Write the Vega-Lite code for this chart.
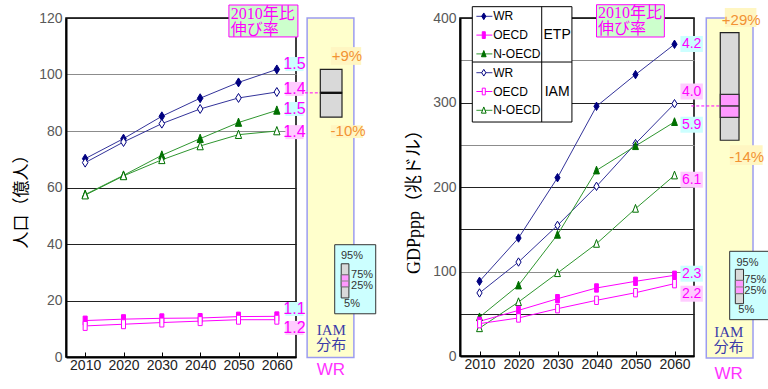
{
  "$schema": "https://vega.github.io/schema/vega-lite/v6.json",
  "padding": {"left": 11, "top": 3, "right": 0, "bottom": 0},
  "background": "white",
  "spacing": 164,
  "bounds": "flush",
  "config": {
    "view": {"stroke": "black", "strokeWidth": 1.5},
    "text": {"font": "Liberation Sans"}
  },
  "datasets": {
    "pop": [
      {"year": 2010, "series": "WR", "src": "ETP", "value": 70.2},
      {"year": 2020, "series": "WR", "src": "ETP", "value": 77.3},
      {"year": 2030, "series": "WR", "src": "ETP", "value": 85.2},
      {"year": 2040, "series": "WR", "src": "ETP", "value": 91.6},
      {"year": 2050, "series": "WR", "src": "ETP", "value": 97.2},
      {"year": 2060, "series": "WR", "src": "ETP", "value": 101.8},
      {"year": 2010, "series": "WR", "src": "IAM", "value": 68.8},
      {"year": 2020, "series": "WR", "src": "IAM", "value": 76.1},
      {"year": 2030, "series": "WR", "src": "IAM", "value": 82.6},
      {"year": 2040, "series": "WR", "src": "IAM", "value": 87.8},
      {"year": 2050, "series": "WR", "src": "IAM", "value": 91.7},
      {"year": 2060, "series": "WR", "src": "IAM", "value": 93.8},
      {"year": 2010, "series": "N-OECD", "src": "ETP", "value": 57.5},
      {"year": 2020, "series": "N-OECD", "src": "ETP", "value": 64.3},
      {"year": 2030, "series": "N-OECD", "src": "ETP", "value": 71.4},
      {"year": 2040, "series": "N-OECD", "src": "ETP", "value": 77.3},
      {"year": 2050, "series": "N-OECD", "src": "ETP", "value": 83.0},
      {"year": 2060, "series": "N-OECD", "src": "ETP", "value": 87.3},
      {"year": 2010, "series": "N-OECD", "src": "IAM", "value": 57.3},
      {"year": 2020, "series": "N-OECD", "src": "IAM", "value": 64.1},
      {"year": 2030, "series": "N-OECD", "src": "IAM", "value": 69.8},
      {"year": 2040, "series": "N-OECD", "src": "IAM", "value": 74.7},
      {"year": 2050, "series": "N-OECD", "src": "IAM", "value": 78.7},
      {"year": 2060, "series": "N-OECD", "src": "IAM", "value": 80.0},
      {"year": 2010, "series": "OECD", "src": "ETP", "value": 12.9},
      {"year": 2020, "series": "OECD", "src": "ETP", "value": 13.4},
      {"year": 2030, "series": "OECD", "src": "ETP", "value": 13.7},
      {"year": 2040, "series": "OECD", "src": "ETP", "value": 13.8},
      {"year": 2050, "series": "OECD", "src": "ETP", "value": 14.3},
      {"year": 2060, "series": "OECD", "src": "ETP", "value": 14.4},
      {"year": 2010, "series": "OECD", "src": "IAM", "value": 11.0},
      {"year": 2020, "series": "OECD", "src": "IAM", "value": 11.6},
      {"year": 2030, "series": "OECD", "src": "IAM", "value": 12.2},
      {"year": 2040, "series": "OECD", "src": "IAM", "value": 12.7},
      {"year": 2050, "series": "OECD", "src": "IAM", "value": 13.2},
      {"year": 2060, "series": "OECD", "src": "IAM", "value": 13.2}
    ],
    "gdp": [
      {"year": 2010, "series": "WR", "src": "ETP", "value": 88.4},
      {"year": 2020, "series": "WR", "src": "ETP", "value": 139.6},
      {"year": 2030, "series": "WR", "src": "ETP", "value": 211},
      {"year": 2040, "series": "WR", "src": "ETP", "value": 295.5},
      {"year": 2050, "series": "WR", "src": "ETP", "value": 333},
      {"year": 2060, "series": "WR", "src": "ETP", "value": 368.9},
      {"year": 2010, "series": "WR", "src": "IAM", "value": 74.6},
      {"year": 2020, "series": "WR", "src": "IAM", "value": 111.2},
      {"year": 2030, "series": "WR", "src": "IAM", "value": 154.6},
      {"year": 2040, "series": "WR", "src": "IAM", "value": 200.8},
      {"year": 2050, "series": "WR", "src": "IAM", "value": 251.3},
      {"year": 2060, "series": "WR", "src": "IAM", "value": 298.6},
      {"year": 2010, "series": "N-OECD", "src": "ETP", "value": 46},
      {"year": 2020, "series": "N-OECD", "src": "ETP", "value": 83.6},
      {"year": 2030, "series": "N-OECD", "src": "ETP", "value": 143.6},
      {"year": 2040, "series": "N-OECD", "src": "ETP", "value": 219.7},
      {"year": 2050, "series": "N-OECD", "src": "ETP", "value": 248.5},
      {"year": 2060, "series": "N-OECD", "src": "ETP", "value": 277},
      {"year": 2010, "series": "N-OECD", "src": "IAM", "value": 33},
      {"year": 2020, "series": "N-OECD", "src": "IAM", "value": 63.9},
      {"year": 2030, "series": "N-OECD", "src": "IAM", "value": 98.2},
      {"year": 2040, "series": "N-OECD", "src": "IAM", "value": 132.9},
      {"year": 2050, "series": "N-OECD", "src": "IAM", "value": 174.4},
      {"year": 2060, "series": "N-OECD", "src": "IAM", "value": 213.8},
      {"year": 2010, "series": "OECD", "src": "ETP", "value": 41},
      {"year": 2020, "series": "OECD", "src": "ETP", "value": 54},
      {"year": 2030, "series": "OECD", "src": "ETP", "value": 67.8},
      {"year": 2040, "series": "OECD", "src": "ETP", "value": 80.5},
      {"year": 2050, "series": "OECD", "src": "ETP", "value": 88.4},
      {"year": 2060, "series": "OECD", "src": "ETP", "value": 95.5},
      {"year": 2010, "series": "OECD", "src": "IAM", "value": 38.3},
      {"year": 2020, "series": "OECD", "src": "IAM", "value": 45},
      {"year": 2030, "series": "OECD", "src": "IAM", "value": 56},
      {"year": 2040, "series": "OECD", "src": "IAM", "value": 65.9},
      {"year": 2050, "series": "OECD", "src": "IAM", "value": 74.9},
      {"year": 2060, "series": "OECD", "src": "IAM", "value": 85.6}
    ],
    "popLabels": [
      {"src": "ETP", "label": "1.5", "y": 103.7},
      {"src": "IAM", "label": "1.4", "y": 94.9},
      {"src": "ETP", "label": "1.5", "y": 87.8},
      {"src": "IAM", "label": "1.4", "y": 79.6},
      {"src": "ETP", "label": "1.1", "y": 17},
      {"src": "IAM", "label": "1.2", "y": 10.3}
    ],
    "gdpLabels": [
      {"src": "ETP", "label": "4.2", "y": 369.2},
      {"src": "IAM", "label": "4.0", "y": 313},
      {"src": "ETP", "label": "5.9", "y": 273.7},
      {"src": "IAM", "label": "6.1", "y": 208.6},
      {"src": "ETP", "label": "2.3", "y": 97.4},
      {"src": "IAM", "label": "2.2", "y": 73.7}
    ],
    "popBox": [{"p5": 84.9, "p25": 93.3, "median": 93.5, "p75": 93.7, "p95": 101.8, "up": "+9%", "down": "-10%"}],
    "gdpBox": [{"p5": 255.3, "p25": 282.5, "median": 295.9, "p75": 309.7, "p95": 382.6, "up": "+29%", "down": "-14%"}],
    "legend": [
      {"series": "WR", "src": "ETP", "row": 1},
      {"series": "OECD", "src": "ETP", "row": 2},
      {"series": "N-OECD", "src": "ETP", "row": 3},
      {"series": "WR", "src": "IAM", "row": 4},
      {"series": "OECD", "src": "IAM", "row": 5},
      {"series": "N-OECD", "src": "IAM", "row": 6}
    ]
  },
  "hconcat": [
    {
      "width": 230,
      "height": 339,
      "layer": [
        {
          "data": {"name": "pop"},
          "mark": {"type": "line", "strokeWidth": 1},
          "encoding": {
            "x": {"field": "year", "type": "quantitative",
              "scale": {"domain": [2005, 2065], "nice": false, "zero": false},
              "axis": {"values": [2010, 2020, 2030, 2040, 2050, 2060], "format": "d", "title": null, "grid": false, "ticks": true, "tickSize": -5, "tickColor": "black", "domainColor": "black", "domainWidth": 2, "labelColor": "#222", "labelFontSize": 14, "labelFont": "Liberation Sans", "labelPadding": 6}},
            "y": {"field": "value", "type": "quantitative",
              "scale": {"domain": [0, 120], "nice": false, "zero": false},
              "axis": {"values": [0, 20, 40, 60, 80, 100, 120], "title": "人口（億人）", "grid": true,
                "gridColor": {"condition": {"test": "datum.value === 80 || datum.value === 100", "value": "#8c8c8c"}, "value": "#222"},
                "ticks": false, "domainColor": "black", "domainWidth": 2, "labelColor": "#595959", "labelFontSize": 14, "labelFont": "Liberation Sans", "labelPadding": 4,
                "titleFont": "Noto Sans CJK JP", "titleFontSize": 17, "titleFontWeight": "normal", "titleColor": "black", "titlePadding": 8, "titleY": 179, "titleAlign": "center", "titleAnchor": "middle"}},
            "color": {"field": "series", "type": "nominal", "scale": {"domain": ["WR", "OECD", "N-OECD"], "range": ["#33339a", "#ff00ff", "#2f962f"]}, "legend": null},
            "detail": {"field": "src"}
          }
        },
        {
          "data": {"name": "pop"},
          "mark": {"type": "point", "filled": true, "size": 80, "strokeWidth": 1, "opacity": 1},
          "encoding": {
            "x": {"field": "year", "type": "quantitative"},
            "y": {"field": "value", "type": "quantitative"},
            "shape": {"field": "series", "type": "nominal", "scale": {"domain": ["WR", "OECD", "N-OECD"], "range": ["M0,-1L0.62,0L0,1L-0.62,0Z", "M-0.45,-1L0.45,-1L0.45,1L-0.45,1Z", "M0,-1L0.7,0.85L-0.7,0.85Z"]}, "legend": null},
            "stroke": {"field": "series", "type": "nominal", "scale": {"domain": ["WR", "OECD", "N-OECD"], "range": ["#000080", "#ff00ff", "#007000"]}, "legend": null},
            "fill": {"condition": {"test": "datum.src === 'IAM'", "value": "white"}, "field": "series", "type": "nominal", "scale": {"domain": ["WR", "OECD", "N-OECD"], "range": ["#000080", "#ff00ff", "#007000"]}, "legend": null}
          }
        },
        {
          "data": {"name": "popLabels"},
          "mark": {"type": "point", "filled": true, "opacity": 1, "shape": "M-1.3,-1L1.3,-1L1.3,1L-1.3,1Z", "size": 196, "strokeWidth": 0},
          "encoding": {
            "x": {"datum": 2064.6, "type": "quantitative"},
            "y": {"field": "y", "type": "quantitative"},
            "fill": {"condition": {"test": "datum.src === 'ETP'", "value": "#ccffff"}, "value": "#ffccff"}
          }
        },
        {
          "data": {"name": "popLabels"},
          "mark": {"type": "text", "font": "Liberation Sans Narrow, Liberation Sans", "fontSize": 16, "color": "#ff00ff", "baseline": "middle", "align": "center"},
          "encoding": {
            "x": {"datum": 2064.6, "type": "quantitative"},
            "y": {"field": "y", "type": "quantitative"},
            "text": {"field": "label"}
          }
        },
        {
          "data": {"values": [{}]},
          "mark": {"type": "rect", "fill": "#ffffcc", "stroke": "#9c9cf0", "strokeWidth": 1.5},
          "encoding": {"x": {"datum": 2067.9, "type": "quantitative"}, "x2": {"datum": 2080.1}, "y": {"datum": 120, "type": "quantitative"}, "y2": {"datum": -0.2}}
        },
        {
          "data": {"name": "popBox"},
          "mark": {"type": "rule", "color": "#ff00ff", "strokeDash": [3, 2], "strokeWidth": 1},
          "encoding": {"x": {"datum": 2067.3, "type": "quantitative"}, "x2": {"datum": 2071.34}, "y": {"field": "median", "type": "quantitative"}}
        },
        {
          "data": {"name": "popBox"},
          "mark": {"type": "rect", "fill": "#d9d9d9", "stroke": "#222", "strokeWidth": 1.2},
          "encoding": {"x": {"datum": 2071.34, "type": "quantitative"}, "x2": {"datum": 2077.0}, "y": {"field": "p5", "type": "quantitative"}, "y2": {"field": "p95"}}
        },
        {
          "data": {"name": "popBox"},
          "mark": {"type": "rect", "fill": "#ff99ff", "stroke": "#333", "strokeWidth": 1},
          "encoding": {"x": {"datum": 2071.34, "type": "quantitative"}, "x2": {"datum": 2077.0}, "y": {"field": "p25", "type": "quantitative"}, "y2": {"field": "p75"}}
        },
        {
          "data": {"name": "popBox"},
          "mark": {"type": "rule", "color": "#111", "strokeWidth": 2.2},
          "encoding": {"x": {"datum": 2071.34, "type": "quantitative"}, "x2": {"datum": 2077.0}, "y": {"field": "median", "type": "quantitative"}}
        },
        {
          "data": {"values": [{}]},
          "mark": {"type": "rect", "fill": "#fff6c2"},
          "encoding": {"x": {"datum": 2074.1, "type": "quantitative"}, "x2": {"datum": 2082.0}, "y": {"datum": 109.7, "type": "quantitative"}, "y2": {"datum": 103.4}}
        },
        {
          "data": {"name": "popBox"},
          "mark": {"type": "text", "fontSize": 15, "color": "#f29233", "align": "center", "baseline": "middle"},
          "encoding": {"x": {"datum": 2078.3, "type": "quantitative"}, "y": {"datum": 106.4, "type": "quantitative"}, "text": {"field": "up"}}
        },
        {
          "data": {"values": [{}]},
          "mark": {"type": "rect", "fill": "#fff6c2"},
          "encoding": {"x": {"datum": 2074.1, "type": "quantitative"}, "x2": {"datum": 2082.5}, "y": {"datum": 82.0, "type": "quantitative"}, "y2": {"datum": 77.5}}
        },
        {
          "data": {"name": "popBox"},
          "mark": {"type": "text", "fontSize": 15, "color": "#f29233", "align": "center", "baseline": "middle"},
          "encoding": {"x": {"datum": 2078.6, "type": "quantitative"}, "y": {"datum": 80.0, "type": "quantitative"}, "text": {"field": "down"}}
        },
        {
          "data": {"values": [{}]},
          "mark": {"type": "rect", "fill": "#ccffff", "stroke": "#333", "strokeWidth": 1},
          "encoding": {"x": {"datum": 2075.1, "type": "quantitative"}, "x2": {"datum": 2085.8}, "y": {"datum": 39.75, "type": "quantitative"}, "y2": {"datum": 15.3}}
        },
        {
          "data": {"values": [{}]},
          "mark": {"type": "rect", "fill": "#d9d9d9", "stroke": "#333", "strokeWidth": 1},
          "encoding": {"x": {"datum": 2076.8, "type": "quantitative"}, "x2": {"datum": 2078.8}, "y": {"datum": 33.0, "type": "quantitative"}, "y2": {"datum": 20.9}}
        },
        {
          "data": {"values": [{}]},
          "mark": {"type": "rect", "fill": "#ff99ff", "stroke": "#666", "strokeWidth": 1},
          "encoding": {"x": {"datum": 2076.8, "type": "quantitative"}, "x2": {"datum": 2078.8}, "y": {"datum": 29.1, "type": "quantitative"}, "y2": {"datum": 24.8}}
        },
        {
          "data": {"values": [{}]},
          "mark": {"type": "rule", "color": "#888", "strokeWidth": 1},
          "encoding": {"x": {"datum": 2076.8, "type": "quantitative"}, "x2": {"datum": 2078.8}, "y": {"datum": 26.9, "type": "quantitative"}}
        },
        {
          "data": {"values": [{}]},
          "mark": {"type": "text", "text": "95%", "fontSize": 11, "color": "#333", "align": "center", "baseline": "middle"},
          "encoding": {"x": {"datum": 2079.6, "type": "quantitative"}, "y": {"datum": 35.75, "type": "quantitative"}}
        },
        {
          "data": {"values": [{}]},
          "mark": {"type": "text", "text": "75%", "fontSize": 11, "color": "#333", "align": "left", "baseline": "middle"},
          "encoding": {"x": {"datum": 2079.35, "type": "quantitative"}, "y": {"datum": 29.1, "type": "quantitative"}}
        },
        {
          "data": {"values": [{}]},
          "mark": {"type": "text", "text": "25%", "fontSize": 11, "color": "#333", "align": "left", "baseline": "middle"},
          "encoding": {"x": {"datum": 2079.35, "type": "quantitative"}, "y": {"datum": 25.0, "type": "quantitative"}}
        },
        {
          "data": {"values": [{}]},
          "mark": {"type": "text", "text": "5%", "fontSize": 11, "color": "#333", "align": "center", "baseline": "middle"},
          "encoding": {"x": {"datum": 2079.6, "type": "quantitative"}, "y": {"datum": 18.9, "type": "quantitative"}}
        },
        {
          "data": {"values": [{}]},
          "mark": {"type": "text", "text": ["IAM", "分布"], "lineHeight": 15, "font": "Liberation Serif, Noto Sans CJK JP", "fontSize": 15, "color": "#3c3ca8", "align": "center", "baseline": "top"},
          "encoding": {"x": {"datum": 2074.2, "type": "quantitative"}, "y": {"datum": 12.1, "type": "quantitative"}}
        },
        {
          "data": {"values": [{}]},
          "mark": {"type": "text", "text": "WR", "fontSize": 17, "color": "#ff33ff", "align": "center", "baseline": "middle"},
          "encoding": {"x": {"datum": 2074.1, "type": "quantitative"}, "y": {"datum": -4.6, "type": "quantitative"}}
        },
        {
          "data": {"values": [{}]},
          "mark": {"type": "rect", "fill": "#ccffcc", "stroke": "#ff00ff", "strokeWidth": 1},
          "encoding": {"x": {"datum": 2047.5, "type": "quantitative"}, "x2": {"datum": 2065.5}, "y": {"datum": 124.6, "type": "quantitative"}, "y2": {"datum": 113.3}}
        },
        {
          "data": {"values": [{}]},
          "mark": {"type": "text", "text": ["2010年比", "伸び率"], "lineHeight": 16, "font": "Liberation Serif, Noto Sans CJK JP", "fontSize": 16, "color": "#ff00ff", "align": "left", "baseline": "top"},
          "encoding": {"x": {"datum": 2048.0, "type": "quantitative"}, "y": {"datum": 124.4, "type": "quantitative"}}
        }
      ]
    },
    {
      "width": 234,
      "height": 338,
      "resolve": {"scale": {"y": "independent"}},
      "layer": [
        {
          "layer": [
            {
              "data": {"name": "gdp"},
              "mark": {"type": "line", "strokeWidth": 1},
              "encoding": {
                "x": {"field": "year", "type": "quantitative",
                  "scale": {"domain": [2005, 2065], "nice": false, "zero": false},
                  "axis": {"values": [2010, 2020, 2030, 2040, 2050, 2060], "format": "d", "title": null, "grid": false, "ticks": true, "tickSize": -5, "tickColor": "black", "domainColor": "black", "domainWidth": 2, "labelColor": "#222", "labelFontSize": 14, "labelFont": "Liberation Sans", "labelPadding": 6}},
                "y": {"field": "value", "type": "quantitative",
                  "scale": {"domain": [0, 400], "nice": false, "zero": false},
                  "axis": {"values": [0, 50, 100, 150, 200, 250, 300, 350, 400], "labelExpr": "datum.value % 100 === 0 ? datum.label : ''", "title": "GDPppp（兆ドル）", "grid": true,
                    "gridColor": {"condition": {"test": "datum.value === 100 || datum.value === 250 || datum.value === 350", "value": "#8c8c8c"}, "value": "#222"},
                    "ticks": false, "domainColor": "black", "domainWidth": 2, "labelColor": "#595959", "labelFontSize": 14, "labelFont": "Liberation Sans", "labelPadding": 4,
                    "titleFont": "Liberation Serif, Noto Sans CJK JP", "titleFontSize": 18, "titleFontWeight": "normal", "titleColor": "black", "titlePadding": 9, "titleY": 179, "titleAlign": "center", "titleAnchor": "middle"}},
                "color": {"field": "series", "type": "nominal", "scale": {"domain": ["WR", "OECD", "N-OECD"], "range": ["#33339a", "#ff00ff", "#2f962f"]}, "legend": null},
                "detail": {"field": "src"}
              }
            },
            {
              "data": {"name": "gdp"},
              "mark": {"type": "point", "filled": true, "size": 70, "strokeWidth": 1, "opacity": 1},
              "encoding": {
                "x": {"field": "year", "type": "quantitative"},
                "y": {"field": "value", "type": "quantitative"},
                "shape": {"field": "series", "type": "nominal", "scale": {"domain": ["WR", "OECD", "N-OECD"], "range": ["M0,-1L0.62,0L0,1L-0.62,0Z", "M-0.45,-1L0.45,-1L0.45,1L-0.45,1Z", "M0,-1L0.7,0.85L-0.7,0.85Z"]}, "legend": null},
                "stroke": {"field": "series", "type": "nominal", "scale": {"domain": ["WR", "OECD", "N-OECD"], "range": ["#000080", "#ff00ff", "#007000"]}, "legend": null},
                "fill": {"condition": {"test": "datum.src === 'IAM'", "value": "white"}, "field": "series", "type": "nominal", "scale": {"domain": ["WR", "OECD", "N-OECD"], "range": ["#000080", "#ff00ff", "#007000"]}, "legend": null}
              }
            },
            {
              "data": {"name": "gdpLabels"},
              "mark": {"type": "point", "filled": true, "opacity": 1, "shape": "M-1.4,-1L1.4,-1L1.4,1L-1.4,1Z", "size": 256, "strokeWidth": 0},
              "encoding": {
                "x": {"datum": 2064.4, "type": "quantitative"},
                "y": {"field": "y", "type": "quantitative"},
                "fill": {"condition": {"test": "datum.src === 'ETP'", "value": "#ccffff"}, "value": "#ffccff"}
              }
            },
            {
              "data": {"name": "gdpLabels"},
              "mark": {"type": "text", "fontSize": 14, "color": "#ff00ff", "baseline": "middle", "align": "center"},
              "encoding": {
                "x": {"datum": 2064.4, "type": "quantitative"},
                "y": {"field": "y", "type": "quantitative"},
                "text": {"field": "label"}
              }
            },
            {
              "data": {"values": [{}]},
              "mark": {"type": "rect", "fill": "white", "stroke": "black", "strokeWidth": 1},
              "encoding": {"x": {"datum": 2008.15, "type": "quantitative"}, "x2": {"datum": 2033.7}, "y": {"datum": 413.4, "type": "quantitative"}, "y2": {"datum": 276.9}}
            },
            {
              "data": {"values": [{}]},
              "mark": {"type": "rule", "color": "black", "strokeWidth": 1},
              "encoding": {"x": {"datum": 2025.95, "type": "quantitative"}, "y": {"datum": 413.4, "type": "quantitative"}, "y2": {"datum": 276.9}}
            },
            {
              "data": {"values": [{}]},
              "mark": {"type": "rule", "color": "black", "strokeWidth": 1},
              "encoding": {"x": {"datum": 2008.15, "type": "quantitative"}, "x2": {"datum": 2033.7}, "y": {"datum": 347.9, "type": "quantitative"}}
            },
            {
              "data": {"values": [{}]},
              "mark": {"type": "text", "text": "ETP", "fontSize": 14, "color": "black", "align": "center", "baseline": "middle"},
              "encoding": {"x": {"datum": 2029.9, "type": "quantitative"}, "y": {"datum": 379.5, "type": "quantitative"}}
            },
            {
              "data": {"values": [{}]},
              "mark": {"type": "text", "text": "IAM", "fontSize": 14, "color": "black", "align": "center", "baseline": "middle"},
              "encoding": {"x": {"datum": 2029.9, "type": "quantitative"}, "y": {"datum": 312.4, "type": "quantitative"}}
            },
            {
              "data": {"values": [{}]},
              "mark": {"type": "rect", "fill": "#ffffcc", "stroke": "#9c9cf0", "strokeWidth": 1.5},
              "encoding": {"x": {"datum": 2068.15, "type": "quantitative"}, "x2": {"datum": 2080.13}, "y": {"datum": 400, "type": "quantitative"}, "y2": {"datum": -2.4}}
            },
            {
              "data": {"name": "gdpBox"},
              "mark": {"type": "rule", "color": "#ff00ff", "strokeDash": [3, 2], "strokeWidth": 1},
              "encoding": {"x": {"datum": 2064.3, "type": "quantitative"}, "x2": {"datum": 2071.74}, "y": {"field": "median", "type": "quantitative"}}
            },
            {
              "data": {"name": "gdpBox"},
              "mark": {"type": "rect", "fill": "#d9d9d9", "stroke": "#222", "strokeWidth": 1.2},
              "encoding": {"x": {"datum": 2071.74, "type": "quantitative"}, "x2": {"datum": 2076.54}, "y": {"field": "p5", "type": "quantitative"}, "y2": {"field": "p95"}}
            },
            {
              "data": {"name": "gdpBox"},
              "mark": {"type": "rect", "fill": "#ff99ff", "stroke": "#333", "strokeWidth": 1.2},
              "encoding": {"x": {"datum": 2071.74, "type": "quantitative"}, "x2": {"datum": 2076.54}, "y": {"field": "p25", "type": "quantitative"}, "y2": {"field": "p75"}}
            },
            {
              "data": {"name": "gdpBox"},
              "mark": {"type": "rule", "color": "#333", "strokeWidth": 1.5},
              "encoding": {"x": {"datum": 2071.74, "type": "quantitative"}, "x2": {"datum": 2076.54}, "y": {"field": "median", "type": "quantitative"}}
            },
            {
              "data": {"values": [{}]},
              "mark": {"type": "rect", "fill": "#fff6c2"},
              "encoding": {"x": {"datum": 2072.9, "type": "quantitative"}, "x2": {"datum": 2081.0}, "y": {"datum": 411.8, "type": "quantitative"}, "y2": {"datum": 389.3}}
            },
            {
              "data": {"name": "gdpBox"},
              "mark": {"type": "text", "fontSize": 15, "color": "#f29233", "align": "center", "baseline": "middle"},
              "encoding": {"x": {"datum": 2077.1, "type": "quantitative"}, "y": {"datum": 397.3, "type": "quantitative"}, "text": {"field": "up"}}
            },
            {
              "data": {"values": [{}]},
              "mark": {"type": "rect", "fill": "#fff6c2"},
              "encoding": {"x": {"datum": 2074.2, "type": "quantitative"}, "x2": {"datum": 2082.6}, "y": {"datum": 249.3, "type": "quantitative"}, "y2": {"datum": 226}}
            },
            {
              "data": {"name": "gdpBox"},
              "mark": {"type": "text", "fontSize": 15, "color": "#f29233", "align": "center", "baseline": "middle"},
              "encoding": {"x": {"datum": 2078.5, "type": "quantitative"}, "y": {"datum": 235.5, "type": "quantitative"}, "text": {"field": "down"}}
            },
            {
              "data": {"values": [{}]},
              "mark": {"type": "rect", "fill": "#ccffff", "stroke": "#333", "strokeWidth": 1},
              "encoding": {"x": {"datum": 2074.15, "type": "quantitative"}, "x2": {"datum": 2084.3}, "y": {"datum": 123.9, "type": "quantitative"}, "y2": {"datum": 43.0}}
            },
            {
              "data": {"values": [{}]},
              "mark": {"type": "rect", "fill": "#d9d9d9", "stroke": "#333", "strokeWidth": 1},
              "encoding": {"x": {"datum": 2075.6, "type": "quantitative"}, "x2": {"datum": 2077.7}, "y": {"datum": 102.6, "type": "quantitative"}, "y2": {"datum": 61.9}}
            },
            {
              "data": {"values": [{}]},
              "mark": {"type": "rect", "fill": "#ff99ff", "stroke": "#666", "strokeWidth": 1},
              "encoding": {"x": {"datum": 2075.6, "type": "quantitative"}, "x2": {"datum": 2077.7}, "y": {"datum": 89.6, "type": "quantitative"}, "y2": {"datum": 73.7}}
            },
            {
              "data": {"values": [{}]},
              "mark": {"type": "rule", "color": "#888", "strokeWidth": 1},
              "encoding": {"x": {"datum": 2075.6, "type": "quantitative"}, "x2": {"datum": 2077.7}, "y": {"datum": 81.7, "type": "quantitative"}}
            },
            {
              "data": {"values": [{}]},
              "mark": {"type": "text", "text": "95%", "fontSize": 11, "color": "#333", "align": "center", "baseline": "middle"},
              "encoding": {"x": {"datum": 2078.7, "type": "quantitative"}, "y": {"datum": 110.4, "type": "quantitative"}}
            },
            {
              "data": {"values": [{}]},
              "mark": {"type": "text", "text": "75%", "fontSize": 11, "color": "#333", "align": "left", "baseline": "middle"},
              "encoding": {"x": {"datum": 2077.9, "type": "quantitative"}, "y": {"datum": 89.6, "type": "quantitative"}}
            },
            {
              "data": {"values": [{}]},
              "mark": {"type": "text", "text": "25%", "fontSize": 11, "color": "#333", "align": "left", "baseline": "middle"},
              "encoding": {"x": {"datum": 2077.9, "type": "quantitative"}, "y": {"datum": 76.6, "type": "quantitative"}}
            },
            {
              "data": {"values": [{}]},
              "mark": {"type": "text", "text": "5%", "fontSize": 11, "color": "#333", "align": "center", "baseline": "middle"},
              "encoding": {"x": {"datum": 2078.4, "type": "quantitative"}, "y": {"datum": 54.1, "type": "quantitative"}}
            },
            {
              "data": {"values": [{}]},
              "mark": {"type": "text", "text": ["IAM", "分布"], "lineHeight": 15, "font": "Liberation Serif, Noto Sans CJK JP", "fontSize": 15, "color": "#3c3ca8", "align": "center", "baseline": "top"},
              "encoding": {"x": {"datum": 2073.9, "type": "quantitative"}, "y": {"datum": 36.3, "type": "quantitative"}}
            },
            {
              "data": {"values": [{}]},
              "mark": {"type": "text", "text": "WR", "fontSize": 17, "color": "#ff33ff", "align": "center", "baseline": "middle"},
              "encoding": {"x": {"datum": 2073.9, "type": "quantitative"}, "y": {"datum": -20.9, "type": "quantitative"}}
            },
            {
              "data": {"values": [{}]},
              "mark": {"type": "rect", "fill": "#ccffcc", "stroke": "#ff00ff", "strokeWidth": 1},
              "encoding": {"x": {"datum": 2040.0, "type": "quantitative"}, "x2": {"datum": 2057.4}, "y": {"datum": 415.7, "type": "quantitative"}, "y2": {"datum": 377.5}}
            },
            {
              "data": {"values": [{}]},
              "mark": {"type": "text", "text": ["2010年比", "伸び率"], "lineHeight": 16, "font": "Liberation Serif, Noto Sans CJK JP", "fontSize": 16, "color": "#ff00ff", "align": "left", "baseline": "top"},
              "encoding": {"x": {"datum": 2040.4, "type": "quantitative"}, "y": {"datum": 414.8, "type": "quantitative"}}
            }
          ]
        },
        {
          "data": {"name": "legend"},
          "layer": [
            {
              "mark": {"type": "rule", "strokeWidth": 1},
              "encoding": {
                "x": {"datum": 2009.2, "type": "quantitative"}, "x2": {"datum": 2013.3},
                "y": {"field": "row", "type": "quantitative", "scale": {"domain": [1, 6], "range": [-1.7, 92.3], "nice": false, "zero": false}, "axis": null},
                "color": {"field": "series", "type": "nominal", "legend": null}
              }
            },
            {
              "mark": {"type": "point", "filled": true, "size": 45, "strokeWidth": 1, "opacity": 1},
              "encoding": {
                "x": {"datum": 2011.1, "type": "quantitative"},
                "y": {"field": "row", "type": "quantitative"},
                "shape": {"field": "series", "type": "nominal", "legend": null},
                "stroke": {"field": "series", "type": "nominal", "legend": null},
                "fill": {"condition": {"test": "datum.src === 'IAM'", "value": "white"}, "field": "series", "type": "nominal", "legend": null}
              }
            },
            {
              "mark": {"type": "text", "fontSize": 12, "color": "black", "align": "left", "baseline": "middle"},
              "encoding": {
                "x": {"datum": 2013.5, "type": "quantitative"},
                "y": {"field": "row", "type": "quantitative"},
                "text": {"field": "series"}
              }
            }
          ]
        }
      ]
    }
  ]
}
